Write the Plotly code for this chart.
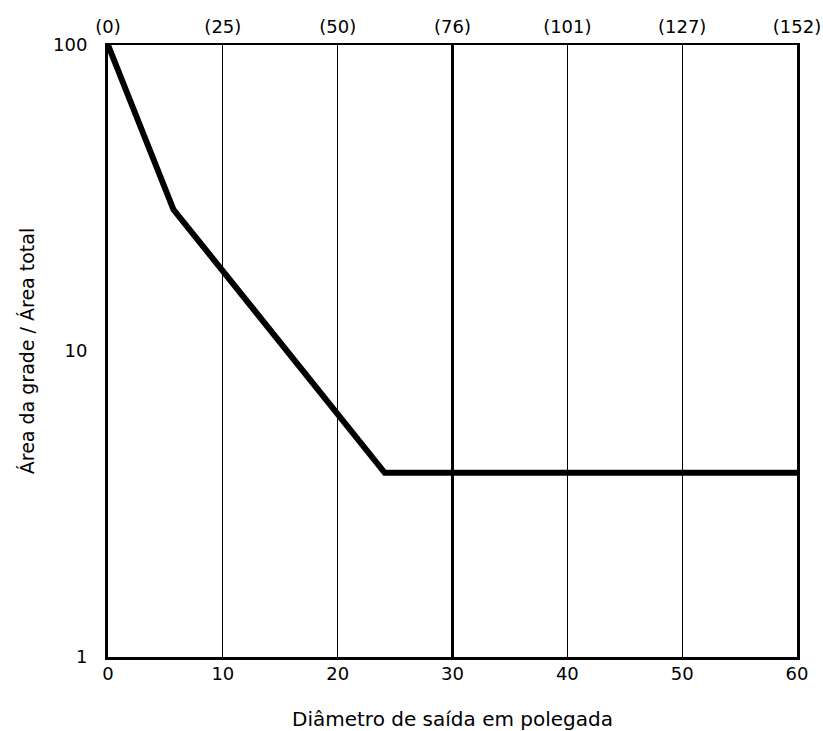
import plotly.graph_objects as go

# Data
diam_in = [0, 5.7, 24.1, 60]
area_ratio = [100, 29, 4.0, 4.0]
x_ticks = [0, 10, 20, 30, 40, 50, 60]
x_mm_labels = ["(0)", "(25)", "(50)", "(76)", "(101)", "(127)", "(152)"]
y_ticks = [1, 10, 100]

FONT = "DejaVu Sans, Liberation Sans, sans-serif"

fig = go.Figure()
fig.add_trace(go.Scatter(x=diam_in, y=area_ratio, mode="lines",
                         line=dict(color="black", width=6), showlegend=False,
                         hoverinfo="skip"))
# invisible trace on top axis
fig.add_trace(go.Scatter(x=[0, 60], y=[1, 1], xaxis="x2", mode="lines",
                         line=dict(width=0), showlegend=False, hoverinfo="skip"))

fig.add_vline(x=30, line=dict(color="black", width=3))

fig.update_layout(
    width=823, height=731,
    margin=dict(l=108, r=26, t=45, b=74, autoexpand=False),
    paper_bgcolor="white", plot_bgcolor="white",
    font=dict(family=FONT, size=18, color="black"),
    xaxis=dict(range=[0, 60], tickvals=x_ticks, ticktext=[str(v) for v in x_ticks],
               tickfont=dict(size=18),
               showgrid=True, gridcolor="black", gridwidth=1, zeroline=False,
               showline=True, linecolor="black", linewidth=3, mirror=False,
               ticks="", ticklen=0, ticklabelstandoff=-2,
               title=dict(text="Diâmetro de saída em polegada", standoff=30,
                          font=dict(size=20))),
    xaxis2=dict(range=[0, 60], overlaying="x", side="top", tickvals=x_ticks,
                ticktext=x_mm_labels, tickfont=dict(size=18),
                showgrid=False, zeroline=False,
                showline=True, linecolor="black", linewidth=2, ticks="",
                ticklabelstandoff=3),
    yaxis=dict(type="log", range=[0, 2], tickvals=y_ticks,
               ticktext=[str(v) for v in y_ticks], tickfont=dict(size=18),
               showgrid=False, zeroline=False,
               showline=True, linecolor="black", linewidth=3, mirror=True,
               ticks="", ticklabelstandoff=14,
               title=dict(text="Área da grade / Área total", standoff=14,
                          font=dict(size=19))),
)

fig.write_html("out.html",
               config={"displayModeBar": False},
               post_script="document.body.style.margin='0';document.body.style.overflow='hidden';")
